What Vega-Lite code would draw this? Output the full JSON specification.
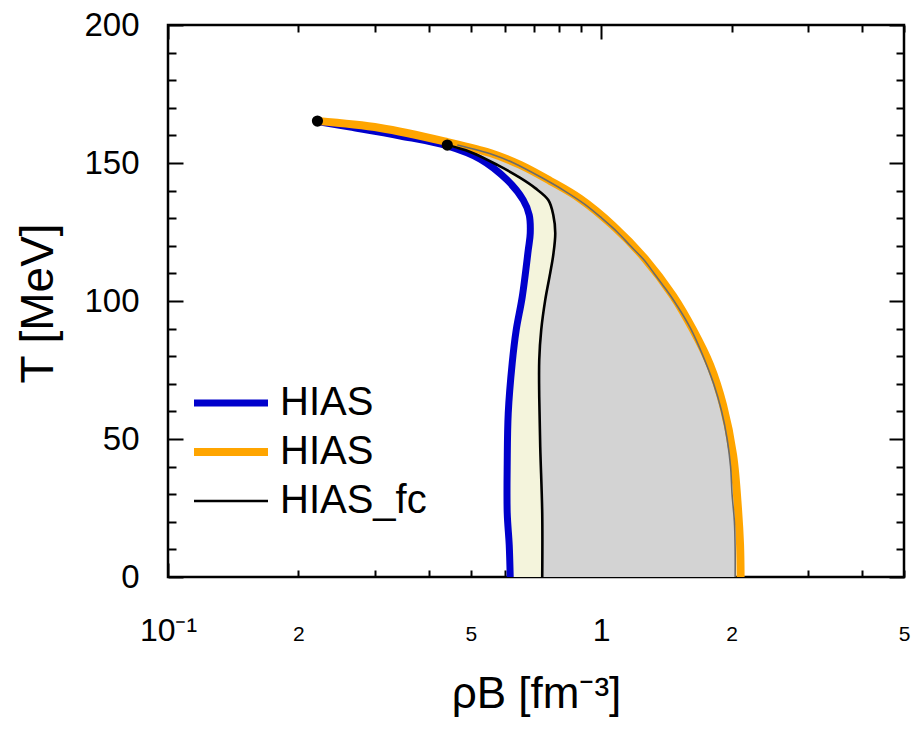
{
  "$schema": "https://vega.github.io/schema/vega-lite/v6.json",
  "width": 736,
  "height": 552,
  "autosize": {"type": "none"},
  "padding": {"left": 168, "top": 25, "right": 12, "bottom": 152},
  "background": "white",
  "config": {
    "view": {"stroke": "black", "strokeWidth": 2.5},
    "axis": {
      "grid": false,
      "domain": false,
      "tickColor": "black",
      "tickWidth": 2,
      "zindex": 1,
      "labelFont": "Liberation Sans",
      "titleFont": "Liberation Sans",
      "labelColor": "black",
      "titleColor": "black",
      "titleFontWeight": "normal"
    },
    "legend": {
      "labelFont": "Liberation Sans",
      "labelColor": "black"
    }
  },
  "datasets": {
    "curves": [
      {"s": "HIAS(blue)", "T": 165.0, "rho": 0.2213},
      {"s": "HIAS(blue)", "T": 163.0, "rho": 0.2636},
      {"s": "HIAS(blue)", "T": 159.8, "rho": 0.3438},
      {"s": "HIAS(blue)", "T": 156.2, "rho": 0.4413},
      {"s": "HIAS(blue)", "T": 151.4, "rho": 0.5258},
      {"s": "HIAS(blue)", "T": 143.8, "rho": 0.6068},
      {"s": "HIAS(blue)", "T": 136.6, "rho": 0.6607},
      {"s": "HIAS(blue)", "T": 131.2, "rho": 0.6821},
      {"s": "HIAS(blue)", "T": 124.6, "rho": 0.6858},
      {"s": "HIAS(blue)", "T": 118.5, "rho": 0.6786},
      {"s": "HIAS(blue)", "T": 101.4, "rho": 0.6571},
      {"s": "HIAS(blue)", "T": 89.5, "rho": 0.6365},
      {"s": "HIAS(blue)", "T": 77.5, "rho": 0.6231},
      {"s": "HIAS(blue)", "T": 59.4, "rho": 0.6101},
      {"s": "HIAS(blue)", "T": 41.3, "rho": 0.6068},
      {"s": "HIAS(blue)", "T": 23.2, "rho": 0.6068},
      {"s": "HIAS(blue)", "T": 11.6, "rho": 0.6133},
      {"s": "HIAS(blue)", "T": 0, "rho": 0.6165},
      {"s": "HIAS(orange)", "T": 165.2, "rho": 0.2213},
      {"s": "HIAS(orange)", "T": 162.7, "rho": 0.3092},
      {"s": "HIAS(orange)", "T": 157.6, "rho": 0.4413},
      {"s": "HIAS(orange)", "T": 153.6, "rho": 0.5546},
      {"s": "HIAS(orange)", "T": 149.3, "rho": 0.6503},
      {"s": "HIAS(orange)", "T": 143.5, "rho": 0.7626},
      {"s": "HIAS(orange)", "T": 137.0, "rho": 0.8946},
      {"s": "HIAS(orange)", "T": 127.2, "rho": 1.066},
      {"s": "HIAS(orange)", "T": 115.2, "rho": 1.264},
      {"s": "HIAS(orange)", "T": 101.8, "rho": 1.466},
      {"s": "HIAS(orange)", "T": 89.5, "rho": 1.63},
      {"s": "HIAS(orange)", "T": 76.8, "rho": 1.784},
      {"s": "HIAS(orange)", "T": 62.3, "rho": 1.911},
      {"s": "HIAS(orange)", "T": 44.2, "rho": 2.016},
      {"s": "HIAS(orange)", "T": 24.3, "rho": 2.07},
      {"s": "HIAS(orange)", "T": 11.6, "rho": 2.092},
      {"s": "HIAS(orange)", "T": 0, "rho": 2.098},
      {"s": "HIAS_fc", "T": 156.5, "rho": 0.4413},
      {"s": "HIAS_fc", "T": 154.0, "rho": 0.4985},
      {"s": "HIAS_fc", "T": 149.3, "rho": 0.5756},
      {"s": "HIAS_fc", "T": 144.6, "rho": 0.6503},
      {"s": "HIAS_fc", "T": 140.9, "rho": 0.7042},
      {"s": "HIAS_fc", "T": 136.6, "rho": 0.7548},
      {"s": "HIAS_fc", "T": 131.2, "rho": 0.7751},
      {"s": "HIAS_fc", "T": 124.6, "rho": 0.7833},
      {"s": "HIAS_fc", "T": 116.7, "rho": 0.7751},
      {"s": "HIAS_fc", "T": 110.1, "rho": 0.7625},
      {"s": "HIAS_fc", "T": 100.4, "rho": 0.7427},
      {"s": "HIAS_fc", "T": 89.5, "rho": 0.727},
      {"s": "HIAS_fc", "T": 78.6, "rho": 0.7194},
      {"s": "HIAS_fc", "T": 65.2, "rho": 0.7194},
      {"s": "HIAS_fc", "T": 47.1, "rho": 0.7232},
      {"s": "HIAS_fc", "T": 23.2, "rho": 0.7309},
      {"s": "HIAS_fc", "T": 0, "rho": 0.7309}
    ],
    "bands": [
      {"T": 0, "blue": 0.6165, "fc": 0.731, "edge": 2.038},
      {"T": 10, "blue": 0.613, "fc": 0.731, "edge": 2.038},
      {"T": 20, "blue": 0.608, "fc": 0.731, "edge": 2.03},
      {"T": 30, "blue": 0.607, "fc": 0.729, "edge": 2.005},
      {"T": 40, "blue": 0.607, "fc": 0.726, "edge": 1.989},
      {"T": 50, "blue": 0.608, "fc": 0.723, "edge": 1.953},
      {"T": 60, "blue": 0.61, "fc": 0.721, "edge": 1.897},
      {"T": 70, "blue": 0.618, "fc": 0.719, "edge": 1.818},
      {"T": 80, "blue": 0.626, "fc": 0.719, "edge": 1.719},
      {"T": 90, "blue": 0.637, "fc": 0.727, "edge": 1.609},
      {"T": 100, "blue": 0.655, "fc": 0.742, "edge": 1.473},
      {"T": 105, "blue": 0.662, "fc": 0.752, "edge": 1.399},
      {"T": 110, "blue": 0.668, "fc": 0.762, "edge": 1.325},
      {"T": 115, "blue": 0.674, "fc": 0.772, "edge": 1.253},
      {"T": 120, "blue": 0.68, "fc": 0.778, "edge": 1.168},
      {"T": 125, "blue": 0.686, "fc": 0.783, "edge": 1.089},
      {"T": 130, "blue": 0.683, "fc": 0.776, "edge": 1.003},
      {"T": 135, "blue": 0.667, "fc": 0.761, "edge": 0.917},
      {"T": 140, "blue": 0.636, "fc": 0.715, "edge": 0.821},
      {"T": 145, "blue": 0.594, "fc": 0.644, "edge": 0.723},
      {"T": 150, "blue": 0.541, "fc": 0.565, "edge": 0.628},
      {"T": 153, "blue": 0.498, "fc": 0.515, "edge": 0.563},
      {"T": 156.5, "blue": 0.441, "fc": 0.441, "edge": 0.4654}
    ],
    "dots": [
      {"rho": 0.2213, "T": 165.2},
      {"rho": 0.4413, "T": 156.5}
    ]
  },
  "layer": [
    {
      "data": {"name": "bands"},
      "mark": {"type": "area", "orient": "horizontal", "color": "#f4f4dc", "interpolate": "monotone"},
      "encoding": {
        "y": {"field": "T", "type": "quantitative", "scale": {"domain": [0, 200], "nice": false},
          "axis": {"orient": "left", "values": [0, 50, 100, 150, 200], "tickSize": -15, "labelPadding": 44, "labelFontSize": 33, "labelBaseline": "middle",
            "title": "T [MeV]", "titleFontSize": 46, "titleX": -130, "titleY": 278, "titleAngle": -90, "titleAlign": "center", "titleBaseline": "middle"}},
        "x": {"field": "blue", "type": "quantitative", "scale": {"type": "log", "domain": [0.1, 5], "nice": false},
          "axis": {"orient": "bottom", "values": [0.1, 0.2, 0.5, 1, 2, 5], "ticks": false, "labelFlush": false, "labelPadding": 63, "labelBaseline": "alphabetic",
            "labelExpr": "datum.value < 0.15 ? '10⁻¹' : datum.value < 0.3 ? '2' : datum.value < 0.7 ? '5' : datum.value < 1.5 ? '1' : datum.value < 3 ? '2' : '5'",
            "labelFontSize": {"condition": {"test": "datum.value < 0.15 || (datum.value > 0.7 && datum.value < 1.5)", "value": 32}, "value": 21},
            "title": "ρB [fm⁻³]", "titleFontSize": 44, "titleX": 368, "titleY": 130, "titleAlign": "center", "titleBaseline": "alphabetic"}},
        "x2": {"field": "fc"}
      }
    },
    {
      "data": {"name": "bands"},
      "mark": {"type": "area", "orient": "horizontal", "color": "#d3d3d3", "interpolate": "monotone"},
      "encoding": {
        "y": {"field": "T", "type": "quantitative",
          "axis": {"orient": "left", "values": [10, 20, 30, 40, 60, 70, 80, 90, 110, 120, 130, 140, 160, 170, 180, 190], "tickSize": -8, "labels": false, "title": null}},
        "x": {"field": "fc", "type": "quantitative", "scale": {"type": "log", "domain": [0.1, 5], "nice": false},
          "axis": {"orient": "bottom", "values": [0.1, 1], "tickSize": -14, "labels": false, "title": null}},
        "x2": {"field": "edge"}
      }
    },
    {
      "data": {"name": "curves"},
      "mark": {"type": "line", "strokeCap": "butt", "strokeJoin": "round", "interpolate": "catmull-rom"},
      "encoding": {
        "y": {"field": "T", "type": "quantitative",
          "axis": {"orient": "right", "values": [0, 50, 100, 150, 200], "tickSize": -15, "labels": false, "title": null}},
        "x": {"field": "rho", "type": "quantitative", "scale": {"type": "log", "domain": [0.1, 5], "nice": false},
          "axis": {"orient": "bottom", "values": [0.2, 0.3, 0.4, 0.5, 0.6, 0.7, 0.8, 0.9, 2, 3, 4, 5], "tickSize": -7, "labels": false, "title": null}},
        "order": {"field": "T", "type": "quantitative"},
        "color": {"field": "s", "type": "nominal",
          "scale": {"domain": ["HIAS(blue)", "HIAS(orange)", "HIAS_fc"], "range": ["#0000cc", "#ffa500", "#000000"]},
          "legend": {"title": null, "orient": "none", "legendX": 22, "legendY": 356, "symbolType": "stroke", "symbolSize": 5476, "clipHeight": 44, "rowPadding": 5,
            "labelFontSize": 40, "labelOffset": 8, "labelExpr": "datum.label == 'HIAS_fc' ? 'HIAS_fc' : 'HIAS'"}},
        "strokeWidth": {"field": "s", "type": "nominal",
          "scale": {"type": "ordinal", "domain": ["HIAS(blue)", "HIAS(orange)", "HIAS_fc"], "range": [7, 8, 2.6]},
          "legend": {"title": null, "orient": "none", "legendX": 22, "legendY": 356, "symbolType": "stroke", "symbolSize": 5476, "clipHeight": 44, "rowPadding": 5,
            "labelFontSize": 40, "labelOffset": 8, "labelExpr": "datum.label == 'HIAS_fc' ? 'HIAS_fc' : 'HIAS'"}}
      }
    },
    {
      "data": {"name": "bands"},
      "mark": {"type": "line", "color": "#6b6b6b", "strokeWidth": 1.6, "interpolate": "catmull-rom"},
      "encoding": {
        "y": {"field": "T", "type": "quantitative",
          "axis": {"orient": "right", "values": [10, 20, 30, 40, 60, 70, 80, 90, 110, 120, 130, 140, 160, 170, 180, 190], "tickSize": -8, "labels": false, "title": null}},
        "x": {"field": "edge", "type": "quantitative", "scale": {"type": "log", "domain": [0.1, 5], "nice": false},
          "axis": {"orient": "top", "values": [0.1, 1], "tickSize": -14, "labels": false, "title": null}},
        "order": {"field": "T", "type": "quantitative"}
      }
    },
    {
      "data": {"name": "dots"},
      "mark": {"type": "circle", "color": "black", "opacity": 1, "size": 125},
      "encoding": {
        "y": {"field": "T", "type": "quantitative", "axis": null},
        "x": {"field": "rho", "type": "quantitative", "scale": {"type": "log", "domain": [0.1, 5], "nice": false},
          "axis": {"orient": "top", "values": [0.2, 0.3, 0.4, 0.5, 0.6, 0.7, 0.8, 0.9, 2, 3, 4, 5], "tickSize": -7, "labels": false, "title": null}}
      }
    }
  ],
  "resolve": {"axis": {"x": "independent", "y": "independent"}, "scale": {"x": "shared", "y": "shared"}}
}
